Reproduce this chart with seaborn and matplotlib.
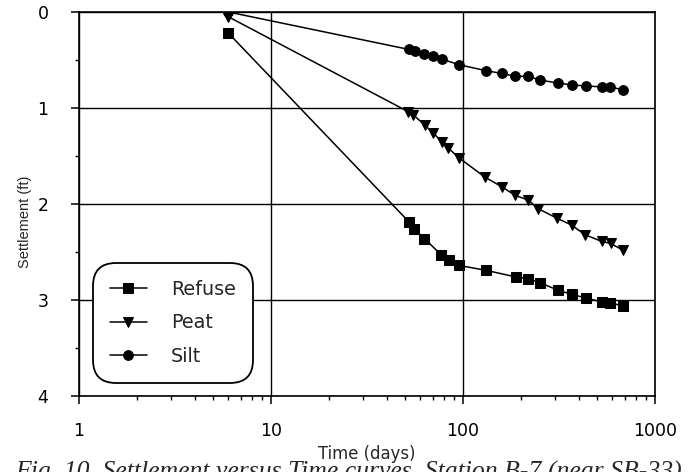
import numpy as np
import pandas as pd
import matplotlib
matplotlib.use('Agg')
import matplotlib.pyplot as plt
from matplotlib.ticker import FixedLocator, FixedFormatter, LogLocator, NullFormatter, MultipleLocator
import seaborn as sns

# settlement readings (time in days, settlement in ft)
refuse_t = [6, 52.5, 55.5, 63, 77, 85, 95.5, 131, 189, 219, 252, 314, 368, 437, 528, 583, 679]
refuse_s = [0.22, 2.19, 2.26, 2.36, 2.53, 2.58, 2.64, 2.69, 2.76, 2.78, 2.82, 2.90, 2.94, 2.98, 3.02, 3.03, 3.06]

peat_t = [6, 52, 55, 63.4, 70, 77.4, 84, 95.5, 130, 159, 187, 219, 247, 310, 368, 432, 528, 587, 679]
peat_s = [0.05, 1.04, 1.07, 1.18, 1.26, 1.35, 1.42, 1.52, 1.72, 1.82, 1.91, 1.96, 2.05, 2.15, 2.22, 2.32, 2.39, 2.41, 2.48]

silt_t = [6, 52.3, 56, 62.6, 70, 77.4, 95.7, 131, 159, 187, 219, 252, 314, 368, 437, 528, 583, 679]
silt_s = [0.0, 0.39, 0.41, 0.44, 0.46, 0.49, 0.55, 0.61, 0.64, 0.67, 0.67, 0.71, 0.74, 0.76, 0.77, 0.78, 0.78, 0.81]

series_names = ['Refuse', 'Peat', 'Silt']
x_ticks = [1, 10, 100, 1000]
x_labels = ['1', '10', '100', '1000']
y_ticks = [0, 1, 2, 3, 4]

caption = 'Fig. 10. Settlement versus Time curves, Station B-7 (near SB-33)'

frames = []
for name, t, s in zip(series_names, [refuse_t, peat_t, silt_t], [refuse_s, peat_s, silt_s]):
    frames.append(pd.DataFrame({'time': t, 'settlement': s, 'material': name}))
df = pd.concat(frames, ignore_index=True)

sns.set_style('white')
plt.rcParams['font.family'] = ['DejaVu Sans']

fig = plt.figure(figsize=(6.96, 4.72), dpi=100)
ax = fig.add_axes([79 / 696, 1 - 396 / 472, 576 / 696, 384 / 472])

sns.lineplot(data=df, x='time', y='settlement', hue='material', style='material',
             hue_order=series_names, style_order=series_names,
             palette=['black'] * 3, markers={'Refuse': 's', 'Peat': 'v', 'Silt': 'o'},
             dashes=False, markersize=7, markeredgecolor='black', linewidth=1.1,
             sort=False, estimator=None, ax=ax)

ax.set_xscale('log')
ax.set_xlim(1, 1000)
ax.set_ylim(4, 0)

ax.xaxis.set_major_locator(FixedLocator(x_ticks))
ax.xaxis.set_major_formatter(FixedFormatter(x_labels))
ax.xaxis.set_minor_locator(LogLocator(base=10, subs=np.arange(2, 10)))
ax.xaxis.set_minor_formatter(NullFormatter())
ax.yaxis.set_major_locator(FixedLocator(y_ticks))
ax.yaxis.set_minor_locator(MultipleLocator(0.5))

ax.tick_params(axis='both', which='major', direction='out', length=6, width=1.1,
               color='black', labelsize=12.5, labelcolor='black')
ax.tick_params(axis='x', which='major', pad=13)
ax.tick_params(axis='y', which='major', pad=16)
ax.tick_params(axis='both', which='minor', direction='out', length=3, width=1.0, color='black')
ax.tick_params(bottom=True, left=True, which='both')

ax.grid(True, which='major', color='black', linewidth=1.0)
for sp in ax.spines.values():
    sp.set_color('black')
    sp.set_linewidth(1.2)

ax.set_xlabel('Time (days)', fontsize=11.9, labelpad=3)
ax.set_ylabel('Settlement (ft)', fontsize=10.5, labelpad=4,
              family=['Liberation Sans', 'DejaVu Sans'])
ax.yaxis.set_label_coords(-0.082, 0.453)

leg = ax.legend(loc='upper left', bbox_to_anchor=(14 / 576, 133 / 384), fontsize=13.8,
                frameon=True, fancybox=True, edgecolor='black', framealpha=1,
                handlelength=1.93, handletextpad=1.25, labelspacing=0.76,
                borderpad=0.88, borderaxespad=0)
leg.get_frame().set_linewidth(1.3)
leg.get_frame().set_boxstyle('round', pad=0.0, rounding_size=1.2)

fig.text(15 / 696, 1 - 479 / 472, caption, fontsize=18.5, style='italic',
         family=['Liberation Serif', 'DejaVu Serif'], va='baseline', ha='left')

fig.savefig('out.png', dpi=100)
